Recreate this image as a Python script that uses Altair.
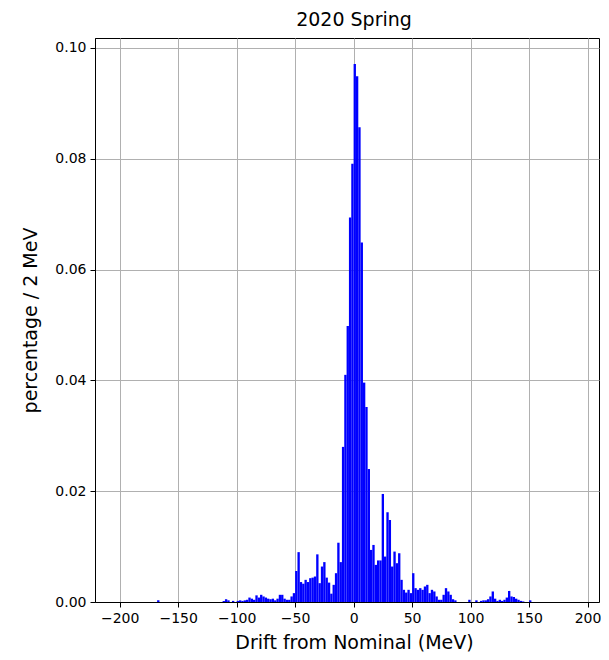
import altair as alt
import pandas as pd

# Histogram bins (left edge in MeV, 2 MeV wide) and heights (percentage / 2 MeV)
bin_start = [
    -168,
    -112, -110, -108, -104,
    -100, -98, -96, -94, -92, -90, -88, -86, -84, -82, -80, -78, -76, -74, -72, -70,
    -68, -66, -64, -62, -60, -58, -56, -54, -52,
    -50, -48, -46, -44, -42, -40, -38, -36, -34, -32, -30, -28, -26, -24, -22,
    -20, -18, -16, -14, -12, -10, -8, -6, -4, -2,
    0, 2, 4, 6, 8, 10, 12, 14, 16, 18,
    20, 22, 24, 26, 28, 30, 32, 34, 36, 38,
    40, 42, 44, 46, 48, 50, 52, 54, 56, 58,
    60, 62, 64, 66, 68, 70, 72, 74, 76, 78,
    80, 82, 84, 86,
    98, 104, 108, 110, 112, 114, 116, 118,
    120, 122, 124, 126, 128, 130, 132, 134, 136, 138,
    140, 142, 144, 150,
]
pct = [
    0.0003,
    0.0002, 0.0005, 0.0003, 0.0002,
    0.0002, 0.0003, 0.0002, 0.0003, 0.0004, 0.0008, 0.0006, 0.0004, 0.0012, 0.0008, 0.0013, 0.0010, 0.0008, 0.0006, 0.0005, 0.0006,
    0.0003, 0.0006, 0.0013, 0.0013, 0.0006, 0.0004, 0.0004, 0.0010, 0.0016,
    0.0056, 0.0090, 0.0036, 0.0033, 0.0040, 0.0036, 0.0043, 0.0044, 0.0046, 0.0086, 0.0034, 0.0064, 0.0072, 0.0044, 0.0035,
    0.0015, 0.0031, 0.0052, 0.0107, 0.0072, 0.0280, 0.0410, 0.0498, 0.0694, 0.0791,
    0.0971, 0.0949, 0.0857, 0.0649, 0.0396, 0.0352, 0.0240, 0.0094, 0.0103, 0.0067,
    0.0075, 0.0075, 0.0195, 0.0082, 0.0162, 0.0148, 0.0064, 0.0091, 0.0070, 0.0088,
    0.0040, 0.0022, 0.0017, 0.0022, 0.0016, 0.0052, 0.0025, 0.0022, 0.0025, 0.0022,
    0.0028, 0.0031, 0.0016, 0.0022, 0.0019, 0.0010, 0.0004, 0.0004, 0.0013, 0.0025,
    0.0019, 0.0013, 0.0005, 0.0003,
    0.0004, 0.0003, 0.0002, 0.0003, 0.0003, 0.0005, 0.0010, 0.0019,
    0.0006, 0.0002, 0.0004, 0.0002, 0.0004, 0.0008, 0.0020, 0.0010, 0.0009, 0.0006,
    0.0004, 0.0002, 0.0001, 0.0003,
]
bin_width = 2
x_ticks = [-200, -150, -100, -50, 0, 50, 100, 150, 200]
y_ticks = [0.0, 0.02, 0.04, 0.06, 0.08, 0.10]

df = pd.DataFrame({"start": bin_start, "pct": pct})
df["end"] = df["start"] + bin_width

FONT = "DejaVu Sans"

chart = alt.Chart(df).mark_bar(color="#0000ff", opacity=1, strokeWidth=0).encode(
    x=alt.X(
        "start:Q",
        scale=alt.Scale(domain=[-221.1, 209.8], nice=False, zero=False),
        axis=alt.Axis(
            values=x_ticks, format="d", title="Drift from Nominal (MeV)",
            titlePadding=8, titleX=259,
        ),
    ),
    x2="end:Q",
    y=alt.Y(
        "pct:Q",
        scale=alt.Scale(domain=[0, 0.1018], nice=False, zero=True),
        axis=alt.Axis(
            values=y_ticks, format=".2f", title="percentage / 2 MeV",
            titlePadding=14,
        ),
    ),
    y2=alt.datum(0),
).properties(
    width=504,
    height=564,
    title=alt.TitleParams(
        "2020 Spring", font=FONT, fontSize=19, fontWeight="normal",
        color="black", anchor="middle", offset=8, dx=7,
    ),
    autosize=alt.AutoSizeParams(type="none"),
    padding={"left": 87, "top": 30, "right": 2, "bottom": 50},
).configure_view(
    stroke="black", strokeWidth=1, fill="white",
).configure_axis(
    grid=True, gridColor="#b0b0b0", gridWidth=1,
    domain=True, domainColor="black", domainWidth=1,
    ticks=True, tickColor="black", tickSize=5, tickWidth=1,
    labelFont=FONT, labelFontSize=14, labelColor="black", labelPadding=4,
    titleFont=FONT, titleFontSize=19, titleFontWeight="normal", titleColor="black",
    zindex=1,
)

chart.save("out.html", embed_options={"renderer": "svg", "actions": False})
